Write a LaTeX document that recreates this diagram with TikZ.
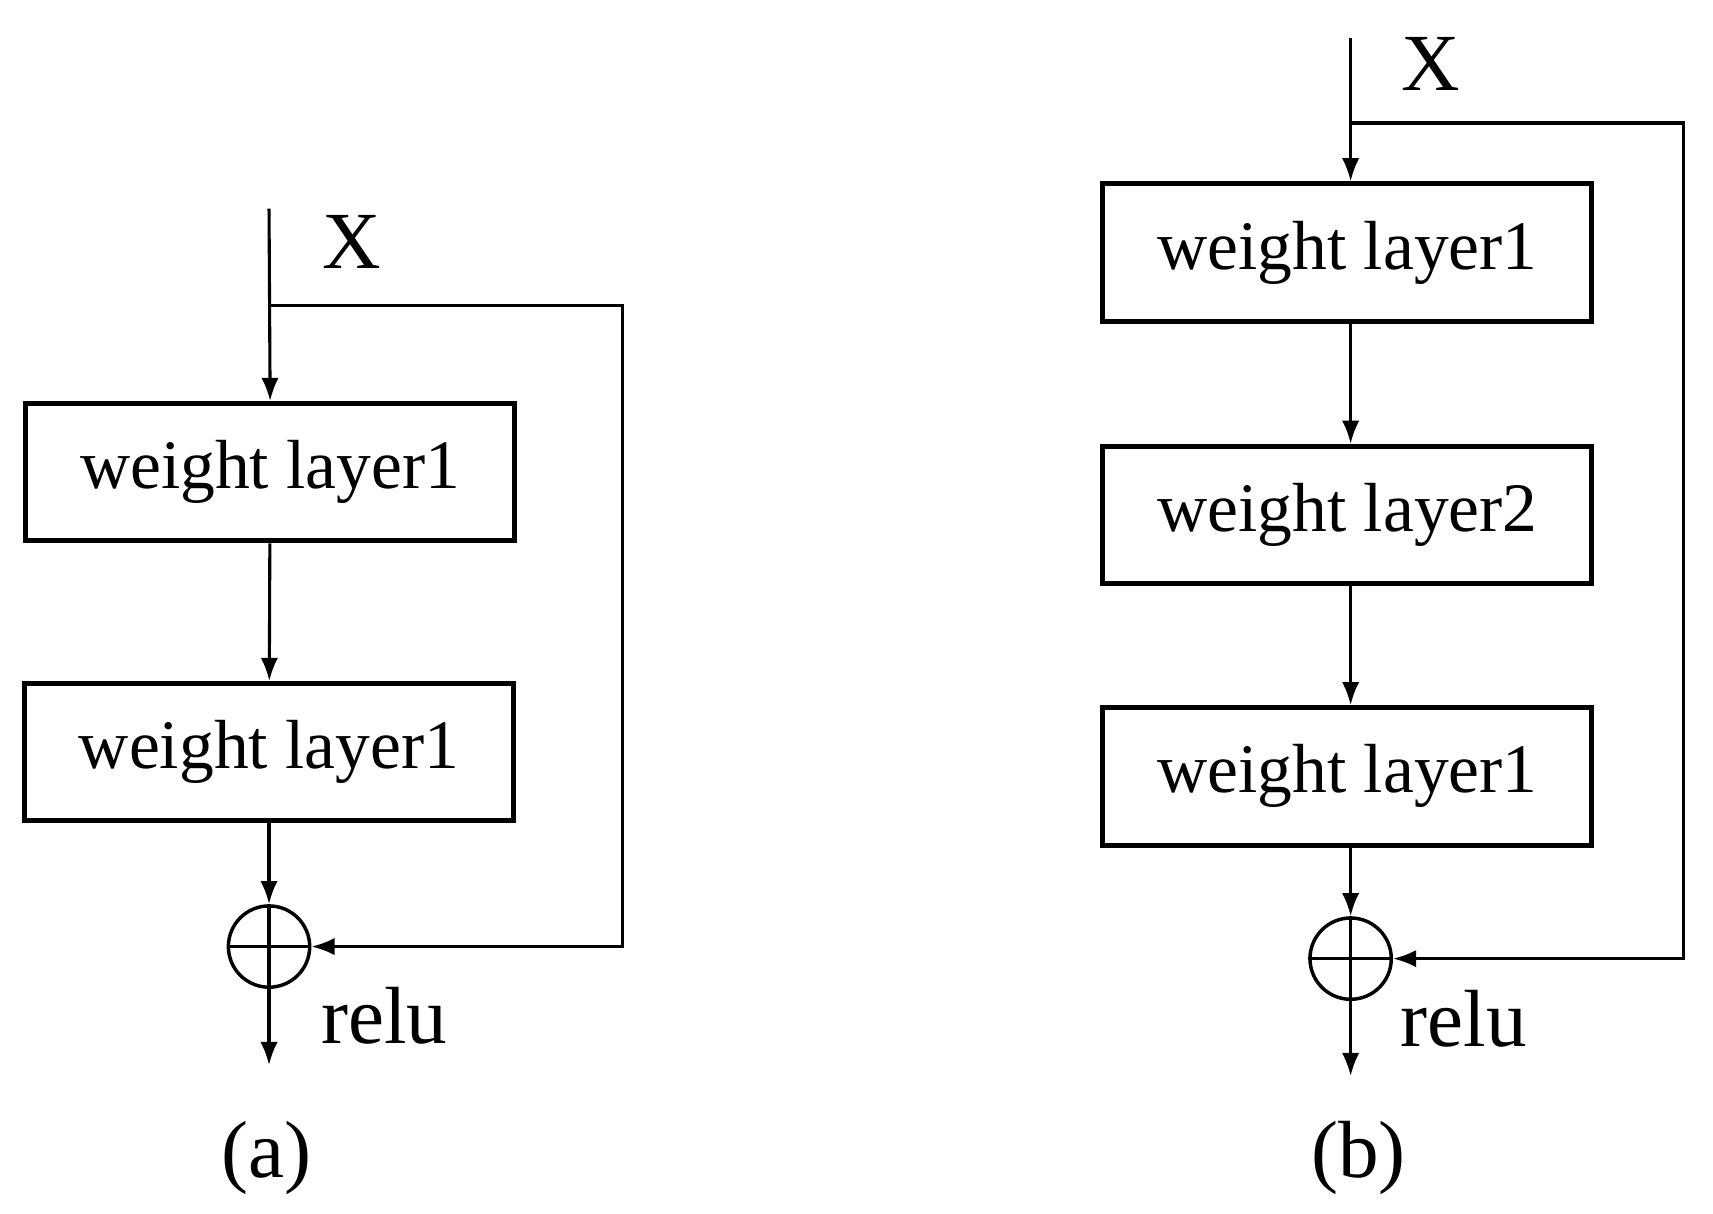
\documentclass[tikz,border=0pt]{standalone}
\usepackage{fontspec}
\setmainfont{Liberation Serif}
\usetikzlibrary{arrows,arrows.meta}
\begin{document}
\begin{tikzpicture}[x=0.01cm,y=-0.01cm]
        \tikzset{layer/.style = {draw, line width=1.3pt, minimum width=4.45cm, minimum height=1.25cm, inner sep=0pt, font=\fontsize{18}{20}\selectfont}}
        \tikzset{edge/.style = {line width=0.8pt, -{Latex[length=6pt,width=4.5pt]}}}
        \tikzset{sum/.style = {draw, circle, line width=0.9pt, minimum size=0.74cm, inner sep=0pt}}
        \tikzset{lbl/.style = {font=\fontsize{21}{24}\selectfont}}
        \useasboundingbox (0,0) rectangle (1560,1105);

        % (a)
        \coordinate (ain) at (245,190);
        \coordinate (asplit) at (245,278);
        \coordinate (aout) at (245,970);
        \node[layer] (a1) at (246,430) {weight layer1};
        \node[layer] (a2) at (245,685) {weight layer1};
        \node[sum] (asum) at (245,862) {};
        \draw[line width=0.9pt] (asum.north) -- (asum.south) (asum.west) -- (asum.east);
        \node[lbl] (ax) at (320,220) {X};
        \node[lbl] (arelu) at (350,925) {relu};
        \node[lbl] (acap) at (243,1055) {(a)};

        \draw[edge] (ain) -- (a1.north);
        \draw[edge] (a1) -- (a2);
        \draw[edge] (a2) -- (asum);
        \draw[edge] (asum) -- (aout);
        \draw[edge] (asplit) -- (567,278) -- (567,862) -- (asum.east);

        % (b)
        \coordinate (bin) at (1230,35);
        \coordinate (bsplit) at (1230,112);
        \coordinate (bout) at (1230,980);
        \node[layer] (b1) at (1227,230) {weight layer1};
        \node[layer] (b2) at (1227,469) {weight layer2};
        \node[layer] (b3) at (1227,707) {weight layer1};
        \node[sum] (bsum) at (1230,873) {};
        \draw[line width=0.9pt] (bsum.north) -- (bsum.south) (bsum.west) -- (bsum.east);
        \node[lbl] (bx) at (1303,58) {X};
        \node[lbl] (brelu) at (1333,928) {relu};
        \node[lbl] (bcap) at (1237,1055) {(b)};

        \draw[edge] (bin) -- (b1.north -| bin);
        \draw[edge] (b1.south -| bin) -- (b2.north -| bin);
        \draw[edge] (b2.south -| bin) -- (b3.north -| bin);
        \draw[edge] (b3.south -| bin) -- (bsum);
        \draw[edge] (bsum) -- (bout);
        \draw[edge] (bsplit) -- (1533,112) -- (1533,873) -- (bsum.east);
\end{tikzpicture}
\end{document}
